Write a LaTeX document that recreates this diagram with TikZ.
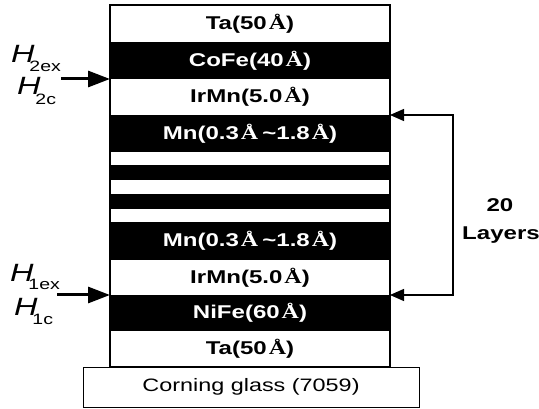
\documentclass[tikz,border=0pt]{standalone}
\usepackage{fontspec}
\setmainfont{Liberation Sans}
\newfontfamily\serifA{Liberation Serif}
\usetikzlibrary{arrows.meta}
\newcommand{\wide}[1]{\scalebox{1.3}[1.0]{#1}}
\newcommand{\AAng}{\kern1.5pt{\serifA\bfseries Å}}
\tikzset{
  lay/.style={minimum width=280pt, inner sep=0pt, outer sep=0pt, font=\fontsize{18.5}{18.5}\selectfont\bfseries},
  layw/.style={lay, fill=white, text=black},
  layb/.style={lay, fill=black, text=white},
  hlab/.style={anchor=base west, inner sep=0pt, font=\fontsize{25}{25}\selectfont},
  bigarrow/.style={line width=3pt, -{Triangle[length=22pt,width=16pt]}},
  looparrow/.style={line width=1.4pt, {Triangle[length=14pt,width=12pt]}-{Triangle[length=14pt,width=12pt]}},
  boldtxt/.style={anchor=base, inner sep=0pt, font=\fontsize{18.5}{18.5}\selectfont\bfseries}
}
\newcommand{\sublab}[2]{\wide{\itshape H\kern-4pt\raisebox{#2}{\fontsize{15}{15}\selectfont\upshape #1}}}
\begin{document}
\begin{tikzpicture}[x=1pt,y=-1pt]
\useasboundingbox (0,0) rectangle (539,409);
% layers
\node[layw, minimum height=37pt] (ta1) at (250,23.5) {\wide{Ta(50\AAng)}};
\node[layb, minimum height=37pt] (cofe) at (250,60.5) {\wide{CoFe(40\AAng)}};
\node[layw, minimum height=36pt] (irmn1) at (250,97) {\wide{IrMn(5.0\AAng)}};
\node[layb, minimum height=37pt] (mn1) at (250,133.5) {\wide{Mn(0.3\AAng\,\textasciitilde1.8\AAng)}};
\node[layw, minimum height=13pt] (s1) at (250,158.5) {};
\node[layb, minimum height=15pt] (s2) at (250,172.5) {};
\node[layw, minimum height=14pt] (s3) at (250,187) {};
\node[layb, minimum height=15pt] (s4) at (250,201.5) {};
\node[layw, minimum height=13pt] (s5) at (250,215.5) {};
\node[layb, minimum height=38pt] (mn2) at (250,241) {\wide{Mn(0.3\AAng\,\textasciitilde1.8\AAng)}};
\node[layw, minimum height=35pt] (irmn2) at (250,277.5) {\wide{IrMn(5.0\AAng)}};
\node[layb, minimum height=36pt] (nife) at (250,313) {\wide{NiFe(60\AAng)}};
\node[layw, minimum height=36pt] (ta2) at (250,349) {\wide{Ta(50\AAng)}};
\draw[line width=1.1pt] (ta1.north west) rectangle (ta2.south east);
% glass
\node[draw, line width=1pt, fill=white, minimum width=336pt, minimum height=40pt, inner sep=0pt,
      font=\fontsize{18}{18}\selectfont] (glass) at (251,387) {\wide{Corning glass (7059)}};
% left labels and arrows
\node[hlab] (h2ex) at (11,63) {\sublab{2ex}{-9pt}};
\node[hlab] (h2c) at (17,95) {\sublab{2c}{-10pt}};
\node[hlab] (h1ex) at (10,282) {\sublab{1ex}{-8pt}};
\node[hlab] (h1c) at (14,316) {\sublab{1c}{-9pt}};
\coordinate (a2) at (61,79);
\coordinate (a1) at (57,295);
\draw[bigarrow] (a2) -- (cofe.south west);
\draw[bigarrow] (a1) -- (nife.north west);
% loop
\coordinate (lt) at (453,115);
\coordinate (lb) at (453,295);
\draw[looparrow] (mn1.north east) -- (lt) -- (lb) -- (nife.north east);
\node[boldtxt] (n20) at (500,212) {\wide{20}};
\node[boldtxt] (nlay) at (501,240) {\wide{Layers}};
\end{tikzpicture}
\end{document}
